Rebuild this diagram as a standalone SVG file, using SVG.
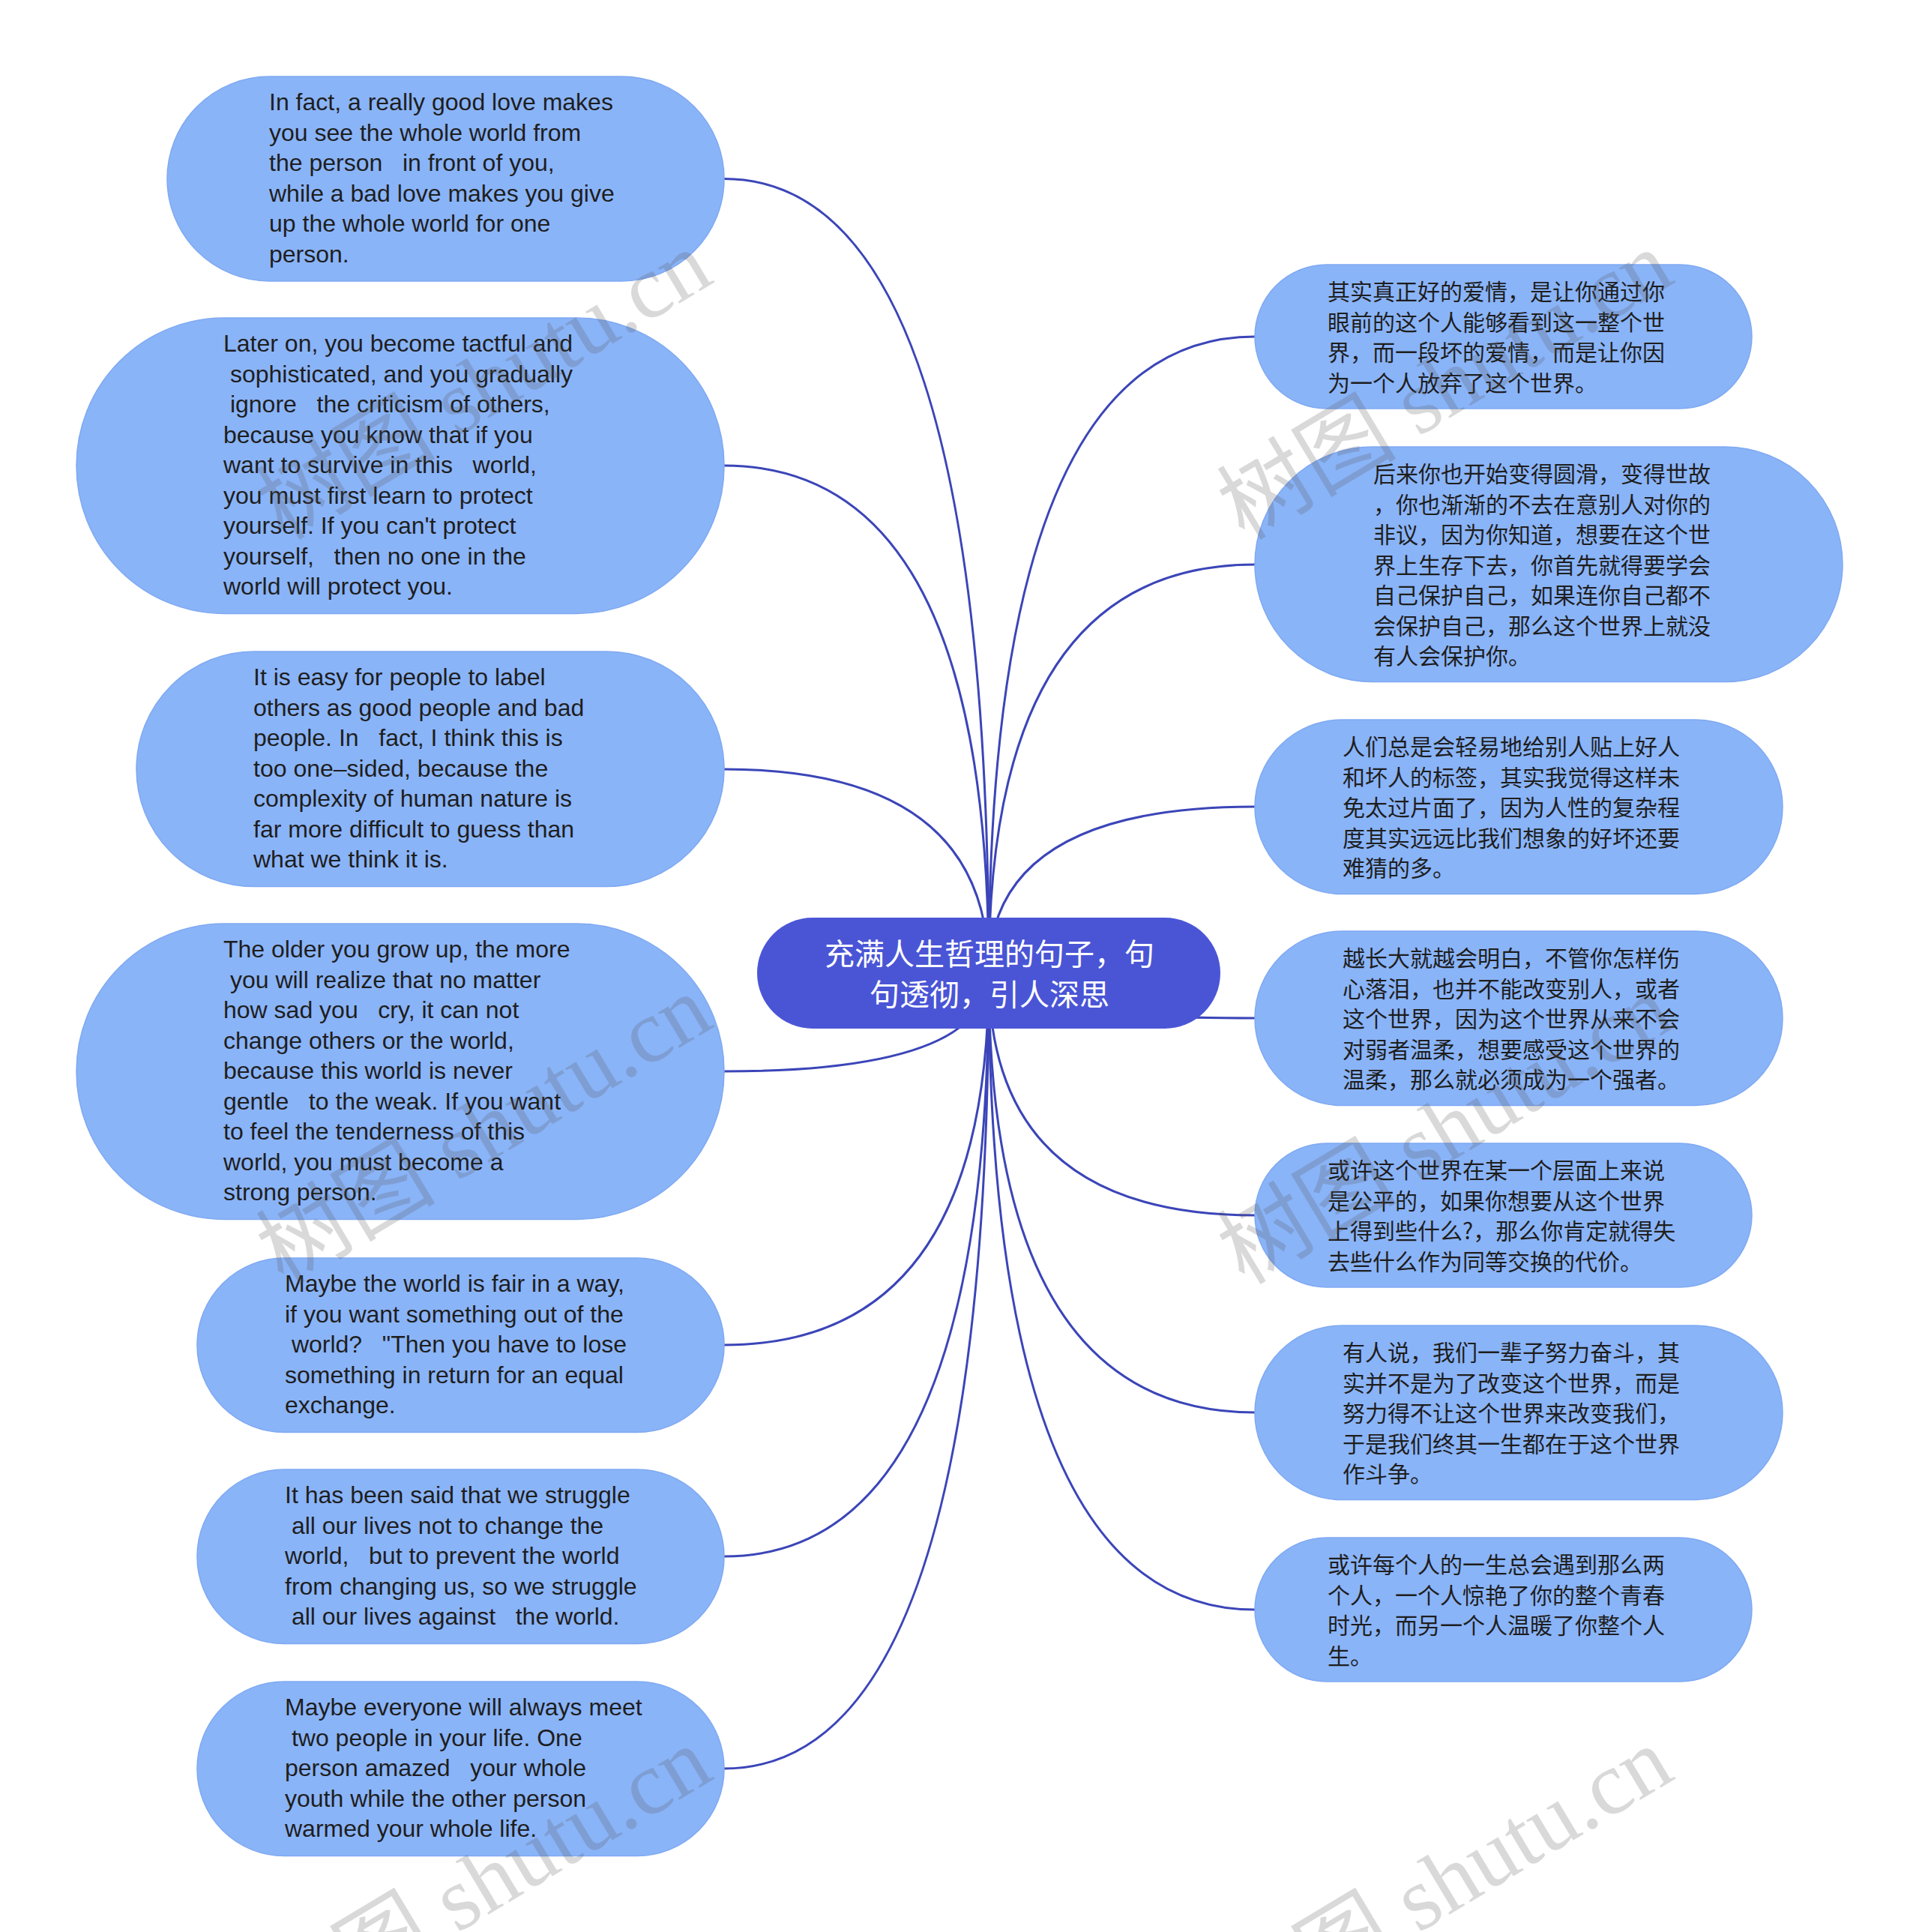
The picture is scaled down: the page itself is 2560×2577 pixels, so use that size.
<svg xmlns="http://www.w3.org/2000/svg" width="2560" height="2577" viewBox="0 0 2560 2577" xml:space="preserve">
<style>
.leaf{fill:#8ab4f8;stroke:#7fa9f2;stroke-width:1.5}
.root{fill:#4a55d6}
.en{font-family:"Liberation Sans",Arial,sans-serif;font-size:32px;fill:#1e1e1e;white-space:pre}
.zh{font-family:"Noto Sans CJK SC","Noto Sans",sans-serif;font-size:30px;fill:#1e1e1e;white-space:pre}
.rt{font-family:"Noto Sans CJK SC",sans-serif;font-size:40px;fill:#ffffff;text-anchor:middle}
.link{fill:none;stroke:#3b45b8;stroke-width:3}
.wm{font-family:"Liberation Serif","Noto Sans CJK SC",serif;font-size:120px;fill:#555555;opacity:0.22}
</style>
<rect width="2560" height="2577" fill="#ffffff"/>
<g id="connectors">
<path class="link" d="M1319 1298 Q1319 238.5 966 238.5"/>
<path class="link" d="M1319 1298 Q1319 621 966 621"/>
<path class="link" d="M1319 1298 Q1319 1026 966 1026"/>
<path class="link" d="M1319 1298 Q1319 1429 966 1429"/>
<path class="link" d="M1319 1298 Q1319 1794 966 1794"/>
<path class="link" d="M1319 1298 Q1319 2076 966 2076"/>
<path class="link" d="M1319 1298 Q1319 2359 966 2359"/>
<path class="link" d="M1319 1298 Q1319 449 1674 449"/>
<path class="link" d="M1319 1298 Q1319 753 1674 753"/>
<path class="link" d="M1319 1298 Q1319 1076 1674 1076"/>
<path class="link" d="M1319 1298 Q1319 1358 1674 1358"/>
<path class="link" d="M1319 1298 Q1319 1621 1674 1621"/>
<path class="link" d="M1319 1298 Q1319 1884 1674 1884"/>
<path class="link" d="M1319 1298 Q1319 2147 1674 2147"/>
</g>
<g id="root">
<rect class="root" x="1010" y="1224" width="618" height="148" rx="74"/>
<text class="rt" x="1320" y="1287">充满人生哲理的句子，句</text>
<text class="rt" x="1320" y="1341">句透彻，引人深思</text>
</g>
<g id="L1">
<rect class="leaf" x="223" y="102" width="743" height="273" rx="136.5"/>
<text class="en" x="359" y="147">In fact, a really good love makes</text>
<text class="en" x="359" y="187.5">you see the whole world from</text>
<text class="en" x="359" y="228">the person   in front of you,</text>
<text class="en" x="359" y="268.5">while a bad love makes you give</text>
<text class="en" x="359" y="309">up the whole world for one</text>
<text class="en" x="359" y="349.5">person.</text>
</g>
<g id="L2">
<rect class="leaf" x="102" y="424" width="864" height="394.5" rx="197"/>
<text class="en" x="298" y="469">Later on, you become tactful and</text>
<text class="en" x="298" y="509.5"> sophisticated, and you gradually</text>
<text class="en" x="298" y="550"> ignore   the criticism of others,</text>
<text class="en" x="298" y="590.5">because you know that if you</text>
<text class="en" x="298" y="631">want to survive in this   world,</text>
<text class="en" x="298" y="671.5">you must first learn to protect</text>
<text class="en" x="298" y="712">yourself. If you can't protect</text>
<text class="en" x="298" y="752.5">yourself,   then no one in the</text>
<text class="en" x="298" y="793">world will protect you.</text>
</g>
<g id="L3">
<rect class="leaf" x="182" y="869" width="784" height="313.5" rx="156.75"/>
<text class="en" x="338" y="914">It is easy for people to label</text>
<text class="en" x="338" y="954.5">others as good people and bad</text>
<text class="en" x="338" y="995">people. In   fact, I think this is</text>
<text class="en" x="338" y="1035.5">too one–sided, because the</text>
<text class="en" x="338" y="1076">complexity of human nature is</text>
<text class="en" x="338" y="1116.5">far more difficult to guess than</text>
<text class="en" x="338" y="1157">what we think it is.</text>
</g>
<g id="L4">
<rect class="leaf" x="102" y="1232" width="864" height="394.5" rx="197"/>
<text class="en" x="298" y="1277">The older you grow up, the more</text>
<text class="en" x="298" y="1317.5"> you will realize that no matter</text>
<text class="en" x="298" y="1358">how sad you   cry, it can not</text>
<text class="en" x="298" y="1398.5">change others or the world,</text>
<text class="en" x="298" y="1439">because this world is never</text>
<text class="en" x="298" y="1479.5">gentle   to the weak. If you want</text>
<text class="en" x="298" y="1520">to feel the tenderness of this</text>
<text class="en" x="298" y="1560.5">world, you must become a</text>
<text class="en" x="298" y="1601">strong person.</text>
</g>
<g id="L5">
<rect class="leaf" x="263" y="1678" width="703" height="232.5" rx="116"/>
<text class="en" x="380" y="1723">Maybe the world is fair in a way,</text>
<text class="en" x="380" y="1763.5">if you want something out of the</text>
<text class="en" x="380" y="1804"> world?   "Then you have to lose</text>
<text class="en" x="380" y="1844.5">something in return for an equal</text>
<text class="en" x="380" y="1885">exchange.</text>
</g>
<g id="L6">
<rect class="leaf" x="263" y="1960" width="703" height="232.5" rx="116"/>
<text class="en" x="380" y="2005">It has been said that we struggle</text>
<text class="en" x="380" y="2045.5"> all our lives not to change the</text>
<text class="en" x="380" y="2086">world,   but to prevent the world</text>
<text class="en" x="380" y="2126.5">from changing us, so we struggle</text>
<text class="en" x="380" y="2167"> all our lives against   the world.</text>
</g>
<g id="L7">
<rect class="leaf" x="263" y="2243" width="703" height="232.5" rx="116"/>
<text class="en" x="380" y="2288">Maybe everyone will always meet</text>
<text class="en" x="380" y="2328.5"> two people in your life. One</text>
<text class="en" x="380" y="2369">person amazed   your whole</text>
<text class="en" x="380" y="2409.5">youth while the other person</text>
<text class="en" x="380" y="2450">warmed your whole life.</text>
</g>
<g id="R1">
<rect class="leaf" x="1674" y="353" width="663" height="192" rx="96"/>
<text class="zh" x="1771" y="400">其实真正好的爱情，是让你通过你</text>
<text class="zh" x="1771" y="440.5">眼前的这个人能够看到这一整个世</text>
<text class="zh" x="1771" y="481">界，而一段坏的爱情，而是让你因</text>
<text class="zh" x="1771" y="521.5">为一个人放弃了这个世界。</text>
</g>
<g id="R2">
<rect class="leaf" x="1674" y="596" width="784" height="313.5" rx="156.75"/>
<text class="zh" x="1832" y="643">后来你也开始变得圆滑，变得世故</text>
<text class="zh" x="1832" y="683.5">，你也渐渐的不去在意别人对你的</text>
<text class="zh" x="1832" y="724">非议，因为你知道，想要在这个世</text>
<text class="zh" x="1832" y="764.5">界上生存下去，你首先就得要学会</text>
<text class="zh" x="1832" y="805">自己保护自己，如果连你自己都不</text>
<text class="zh" x="1832" y="845.5">会保护自己，那么这个世界上就没</text>
<text class="zh" x="1832" y="886">有人会保护你。</text>
</g>
<g id="R3">
<rect class="leaf" x="1674" y="960" width="704" height="232.5" rx="116"/>
<text class="zh" x="1791" y="1007">人们总是会轻易地给别人贴上好人</text>
<text class="zh" x="1791" y="1047.5">和坏人的标签，其实我觉得这样未</text>
<text class="zh" x="1791" y="1088">免太过片面了，因为人性的复杂程</text>
<text class="zh" x="1791" y="1128.5">度其实远远比我们想象的好坏还要</text>
<text class="zh" x="1791" y="1169">难猜的多。</text>
</g>
<g id="R4">
<rect class="leaf" x="1674" y="1242" width="704" height="232.5" rx="116"/>
<text class="zh" x="1791" y="1289">越长大就越会明白，不管你怎样伤</text>
<text class="zh" x="1791" y="1329.5">心落泪，也并不能改变别人，或者</text>
<text class="zh" x="1791" y="1370">这个世界，因为这个世界从来不会</text>
<text class="zh" x="1791" y="1410.5">对弱者温柔，想要感受这个世界的</text>
<text class="zh" x="1791" y="1451">温柔，那么就必须成为一个强者。</text>
</g>
<g id="R5">
<rect class="leaf" x="1674" y="1525" width="663" height="192" rx="96"/>
<text class="zh" x="1771" y="1572">或许这个世界在某一个层面上来说</text>
<text class="zh" x="1771" y="1612.5">是公平的，如果你想要从这个世界</text>
<text class="zh" x="1771" y="1653">上得到些什么?，那么你肯定就得失</text>
<text class="zh" x="1771" y="1693.5">去些什么作为同等交换的代价。</text>
</g>
<g id="R6">
<rect class="leaf" x="1674" y="1768" width="704" height="232.5" rx="116"/>
<text class="zh" x="1791" y="1815">有人说，我们一辈子努力奋斗，其</text>
<text class="zh" x="1791" y="1855.5">实并不是为了改变这个世界，而是</text>
<text class="zh" x="1791" y="1896">努力得不让这个世界来改变我们，</text>
<text class="zh" x="1791" y="1936.5">于是我们终其一生都在于这个世界</text>
<text class="zh" x="1791" y="1977">作斗争。</text>
</g>
<g id="R7">
<rect class="leaf" x="1674" y="2051" width="663" height="192" rx="96"/>
<text class="zh" x="1771" y="2098">或许每个人的一生总会遇到那么两</text>
<text class="zh" x="1771" y="2138.5">个人，一个人惊艳了你的整个青春</text>
<text class="zh" x="1771" y="2179">时光，而另一个人温暖了你整个人</text>
<text class="zh" x="1771" y="2219.5">生。</text>
</g>
<g id="watermarks">
<text class="wm" transform="translate(378 722) rotate(-31)">树图 shutu.cn</text>
<text class="wm" transform="translate(1660 722) rotate(-31)">树图 shutu.cn</text>
<text class="wm" transform="translate(378 1715) rotate(-31)">树图 shutu.cn</text>
<text class="wm" transform="translate(1660 1715) rotate(-31)">树图 shutu.cn</text>
<text class="wm" transform="translate(378 2718) rotate(-31)">树图 shutu.cn</text>
<text class="wm" transform="translate(1660 2718) rotate(-31)">树图 shutu.cn</text>
</g>
</svg>
